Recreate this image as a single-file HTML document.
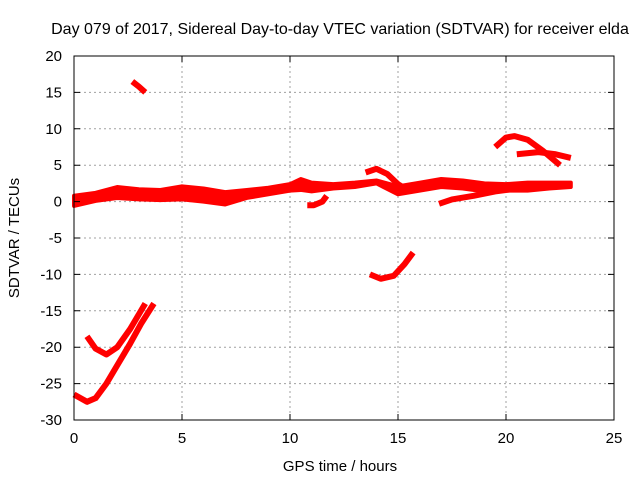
<!DOCTYPE html>
<html><head><meta charset="utf-8"><style>
body{margin:0;background:#fff}
svg{display:block;font-family:"Liberation Sans",sans-serif}
</style></head><body>
<svg id="chart" width="640" height="480" viewBox="0 0 640 480">
<text x="340" y="34" font-size="16" text-anchor="middle">Day 079 of 2017, Sidereal Day-to-day VTEC variation (SDTVAR) for receiver elda</text>
<g id="grid"></g>
<g id="series"></g>
<rect x="74" y="56" width="540" height="364" fill="none" stroke="#000" stroke-width="1"/>
<g id="ticks"></g>
<text x="340" y="471" font-size="15" text-anchor="middle">GPS time / hours</text>
<text transform="translate(19,238) rotate(-90)" font-size="15" text-anchor="middle">SDTVAR / TECUs</text>
</svg>
<script>
const xTicks=[0,5,10,15,20,25];
const yTicks=[20,15,10,5,0,-5,-10,-15,-20,-25,-30];
const bandTimes=[0,1,2,3,4,5,6,7,8,9,10,10.5,11,12,13,14,15,16,17,18,19,20,21,22,23];
const bandUpper=[0.8,1.2,2,1.7,1.6,2.1,1.8,1.3,1.6,1.9,2.4,3.1,2.6,2.4,2.6,2.9,2.1,2.6,3.1,2.9,2.5,2.4,2.6,2.6,2.6];
const bandLower=[-0.6,0.1,0.5,0.3,0.2,0.3,0,-0.4,0.5,1,1.5,1.6,1.4,1.8,2,2.5,1,1.5,2,1.8,1.4,1.5,1.5,1.8,2];
const arcs=[
 {name:'arc-top',t:[2.7,3,3.3],v:[16.5,15.8,15]},
 {name:'arc-minus20',t:[0.6,1,1.5,2,2.6,3.3],v:[-18.5,-20.2,-21,-20,-17.5,-14]},
 {name:'arc-minus27',t:[0,0.6,1,1.5,2,2.6,3.1,3.7],v:[-26.5,-27.5,-27,-25,-22.5,-19.5,-16.8,-14]},
 {name:'arc-minus10',t:[13.7,14.2,14.8,15.3,15.7],v:[-10,-10.6,-10.2,-8.6,-7]},
 {name:'arc-upper-right',t:[19.5,20,20.4,21,21.7,22.5],v:[7.5,8.8,9,8.5,7,5]},
 {name:'arc-six',t:[20.5,21.5,22.3,23],v:[6.5,6.8,6.5,6]},
 {name:'arc-four',t:[13.5,14,14.5,15,15.5],v:[4,4.5,3.8,2.4,1.5]},
 {name:'arc-lower-17',t:[16.9,17.5,18.5,19.5,20.5],v:[-0.3,0.3,0.8,1.4,1.8]},
 {name:'arc-dip-11',t:[10.8,11.1,11.5,11.7],v:[-0.5,-0.5,0,0.8]}
];
const NS='http://www.w3.org/2000/svg';
const X=h=>74+h*21.6, Y=v=>56+(20-v)*7.28;
const grid=document.getElementById('grid'), ticks=document.getElementById('ticks'), ser=document.getElementById('series');
function mk(tag,attrs,parent){const e=document.createElementNS(NS,tag);for(const k in attrs)e.setAttribute(k,attrs[k]);parent.appendChild(e);return e;}
xTicks.forEach(t=>{
 if(t>0&&t<25){const l=mk('line',{x1:X(t),x2:X(t),y1:56,y2:420,stroke:'#a0a0a0','stroke-dasharray':'2,3'},grid);
 
 }
 const tk=mk('path',{d:`M${X(t)},420v-6M${X(t)},56v6`,stroke:'#000'},ticks);
 
 
 const tx=mk('text',{x:X(t),y:443,'font-size':15,'text-anchor':'middle'},ticks);tx.textContent=t;
 
 
});
yTicks.forEach(t=>{
 if(t<20&&t>-30){const l=mk('line',{x1:74,x2:614,y1:Y(t),y2:Y(t),stroke:'#a0a0a0','stroke-dasharray':'2,3'},grid);
 
 }
 const tk=mk('path',{d:`M74,${Y(t)}h6M614,${Y(t)}h-6`,stroke:'#000'},ticks);
 
 
 const tx=mk('text',{x:62,y:Y(t)+5,'font-size':15,'text-anchor':'end'},ticks);tx.textContent=t;
 
 
});
let d='M'+bandTimes.map((t,i)=>X(t)+','+Y(bandUpper[i])).join('L');
for(let i=bandTimes.length-1;i>=0;i--)d+='L'+X(bandTimes[i])+','+Y(bandLower[i]);
const band=mk('path',{d:d+'Z',fill:'#f00',stroke:'#f00','stroke-width':4,'stroke-linejoin':'round'},ser);


arcs.forEach(a=>{
 const p=mk('polyline',{points:a.t.map((t,i)=>X(t)+','+Y(a.v[i])).join(' '),fill:'none',stroke:'#f00','stroke-width':6,'stroke-linejoin':'round'},ser);
 
 
});
</script>
</body></html>
